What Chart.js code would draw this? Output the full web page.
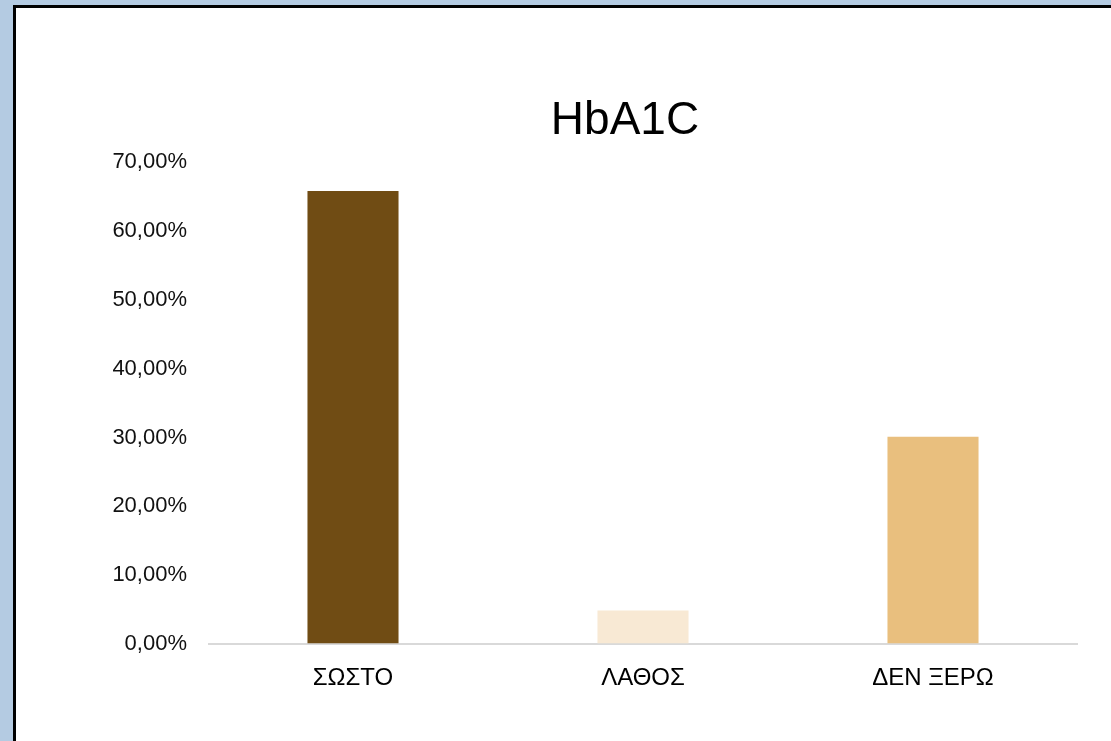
<!DOCTYPE html>
<html>
<head>
<meta charset="utf-8">
<script src="https://cdn.jsdelivr.net/npm/chart.js@4"></script>
<style>
    html, body { margin: 0; padding: 0; }
    body { width: 1111px; height: 741px; background: #b4cbe2; overflow: hidden; position: relative; }
    .frame {
        position: absolute; left: 13px; top: 5px; width: 1095px; height: 733px;
        border-left: 3px solid #000; border-top: 3px solid #000; background: #fff;
    }
    .frame canvas { display: block; }
</style>
</head>
<body>
<div class="frame"><canvas id="hba1cChart" width="1095" height="733"></canvas></div>
<script>
// Chart data
const categories = ['ΣΩΣΤΟ', 'ΛΑΘΟΣ', 'ΔΕΝ ΞΕΡΩ'];
const percentages = [65.8, 4.9, 30.1];
const barColors = ['#704c14', '#f8e9d4', '#e9bf7e'];
const yTicks = [0, 10, 20, 30, 40, 50, 60, 70];

const FONT = "'Liberation Sans', Arial, sans-serif";

// Title sits a little left of the plot centre, so draw it ourselves
const chartTitle = {
    id: 'chartTitle',
    afterDraw(chart, args, opts) {
        const c = chart.ctx;
        const area = chart.chartArea;
        c.save();
        c.font = '46px ' + FONT;
        c.fillStyle = '#000';
        c.textAlign = 'center';
        c.textBaseline = 'middle';
        c.fillText(opts.text, (area.left + area.right) / 2 + opts.shift, opts.y);
        c.restore();
    }
};

function initChart() {
    const ctx = document.getElementById('hba1cChart').getContext('2d');

    new Chart(ctx, {
        type: 'bar',
        data: {
            labels: categories,
            datasets: [{
                data: percentages,
                backgroundColor: barColors,
                borderWidth: 0,
                categoryPercentage: 1,
                barPercentage: 0.314
            }]
        },
        plugins: [chartTitle],
        options: {
            responsive: false,
            animation: false,
            layout: {
                padding: { left: 0, right: 33, top: 154, bottom: 28 }
            },
            plugins: {
                legend: { display: false },
                tooltip: { enabled: false },
                title: { display: false },
                chartTitle: { text: 'HbA1C', shift: -18, y: 113 }
            },
            scales: {
                x: {
                    grid: { display: false, drawTicks: false },
                    border: { display: false },
                    ticks: {
                        color: '#000',
                        padding: 20,
                        font: { family: FONT, size: 24 }
                    }
                },
                y: {
                    min: yTicks[0],
                    max: yTicks[yTicks.length - 1],
                    afterFit: function(scale) { scale.width = 192; },
                    afterBuildTicks: function(scale) {
                        scale.ticks = yTicks.map(v => ({ value: v }));
                    },
                    border: { display: false },
                    grid: {
                        drawTicks: false,
                        lineWidth: 2,
                        color: function(c) {
                            return c.tick && c.tick.value === 0 ? '#d9d9d9' : 'rgba(0,0,0,0)';
                        }
                    },
                    ticks: {
                        color: '#111',
                        padding: 21,
                        font: { family: FONT, size: 22 },
                        callback: function(value) {
                            return value.toFixed(2).replace('.', ',') + '%';
                        }
                    }
                }
            }
        }
    });
}

document.addEventListener('DOMContentLoaded', initChart);
</script>
</body>
</html>
